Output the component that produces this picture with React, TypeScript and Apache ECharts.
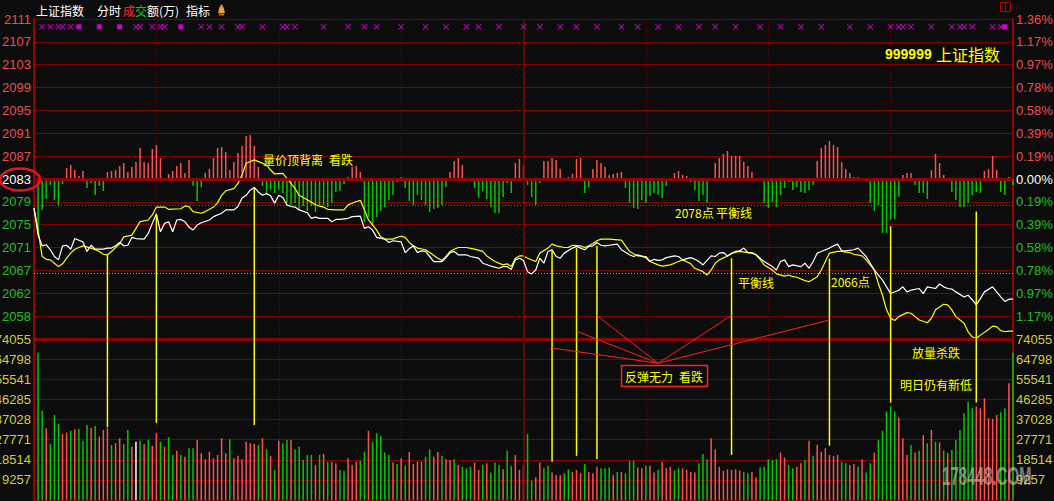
import React, { useEffect, useRef } from "react";
import * as echarts from "echarts";

// ---------------- data ----------------
const PREV_CLOSE = 2083;
const PRICE_STEP = 4.07;
const VOL_STEP = 9257;

// tick labels, index = step + 7 (step -7 .. 7)
const priceTickLabels = ["", "2058", "2062", "2067", "2071", "2075", "2079", "2083", "2087", "2091", "2095", "2099", "2103", "2107", "2111"];
const pctTickLabels = ["", "1.17%", "0.97%", "0.78%", "0.58%", "0.39%", "0.19%", "0.00%", "0.19%", "0.39%", "0.58%", "0.78%", "0.97%", "1.17%", "1.36%"];
// index = volume step 0..8
const volTickLabels = ["", "9257", "18514", "27771", "37028", "46285", "55541", "64798", "74055"];

// [minute, price]
const whiteLine: [number, number][] = [
  [0, 2077.8], [1, 2073.0], [2, 2071.1], [3, 2071.3], [4, 2070.4], [5, 2069.2], [6, 2068.6], [7, 2071.1], [8, 2071.2], [9, 2070.5],
  [10, 2072.4], [11, 2072.1], [12, 2071.8], [13, 2070.1], [14, 2071.2], [15, 2070.5], [17, 2070.5], [18, 2070.7], [19, 2070.7], [20, 2071.1],
  [21, 2071.7], [22, 2071.1], [23, 2071.2], [24, 2072.6], [25, 2072.4], [27, 2072.3], [28, 2073.3], [29, 2075.1], [30, 2076.8], [31, 2073.6],
  [32, 2075.1], [33, 2075.4], [34, 2073.6], [35, 2075.7], [36, 2075.8], [37, 2075.4], [38, 2074.4], [39, 2073.9], [40, 2074.8], [41, 2075.2],
  [43, 2075.7], [44, 2076.3], [46, 2076.9], [47, 2077.5], [49, 2077.5], [50, 2078.1], [51, 2079.6], [52, 2080.1], [53, 2081.0], [54, 2081.5],
  [55, 2080.7], [56, 2080.1], [57, 2080.4], [58, 2080.0], [59, 2078.7], [60, 2080.1], [61, 2079.7], [62, 2078.4], [63, 2078.1], [64, 2078.0],
  [65, 2077.5], [67, 2077.0], [68, 2076.0], [69, 2076.2], [70, 2076.0], [72, 2076.0], [73, 2075.4], [74, 2075.8], [75, 2075.8], [77, 2076.0],
  [78, 2076.3], [80, 2076.4], [81, 2074.2], [82, 2074.5], [83, 2073.9], [84, 2072.6], [86, 2072.3], [87, 2071.7], [88, 2072.0], [90, 2071.8],
  [91, 2069.9], [92, 2070.6], [93, 2071.1], [94, 2069.9], [95, 2070.2], [96, 2070.1], [97, 2069.2], [98, 2068.3], [99, 2068.3], [100, 2068.3],
  [101, 2069.0], [102, 2069.9], [103, 2070.1], [104, 2069.5], [106, 2069.5], [107, 2069.2], [109, 2068.9], [110, 2068.0], [112, 2067.5], [114, 2067.1],
  [115, 2067.4], [116, 2067.4], [117, 2066.9], [118, 2068.6], [119, 2068.9], [120, 2068.5], [121, 2066.5], [122, 2066.1], [123, 2066.8], [124, 2068.9],
  [125, 2068.0], [126, 2070.1], [127, 2070.4], [128, 2069.2], [129, 2068.9], [130, 2069.8], [132, 2070.7], [133, 2071.0], [134, 2070.7], [135, 2070.4],
  [136, 2071.0], [137, 2071.1], [138, 2071.7], [139, 2071.2], [140, 2071.1], [141, 2071.2], [143, 2071.4], [144, 2070.4], [146, 2069.5], [147, 2069.2],
  [148, 2069.5], [150, 2069.0], [151, 2068.3], [152, 2068.7], [153, 2068.5], [154, 2068.6], [155, 2069.0], [157, 2069.3], [158, 2069.2], [159, 2068.6],
  [161, 2069.0], [162, 2068.7], [163, 2068.3], [164, 2067.7], [166, 2069.3], [167, 2069.2], [168, 2069.8], [169, 2069.9], [170, 2069.3], [172, 2070.1],
  [173, 2070.2], [174, 2070.7], [175, 2069.9], [176, 2069.8], [177, 2069.5], [178, 2068.9], [179, 2068.3], [181, 2067.4], [182, 2066.8], [183, 2068.3],
  [184, 2068.6], [185, 2067.4], [186, 2067.7], [188, 2067.4], [189, 2068.0], [190, 2067.1], [191, 2068.3], [192, 2069.8], [193, 2070.1], [195, 2070.7],
  [196, 2071.1], [197, 2071.4], [198, 2070.2], [199, 2070.2], [201, 2070.4], [202, 2070.7], [204, 2069.2], [205, 2068.0], [206, 2066.8], [208, 2065.0],
  [209, 2063.8], [210, 2062.6], [212, 2063.2], [213, 2063.8], [214, 2062.9], [215, 2063.2], [217, 2063.5], [218, 2062.6], [219, 2063.8], [221, 2063.5],
  [222, 2064.3], [223, 2063.8], [224, 2063.5], [225, 2063.4], [226, 2062.9], [228, 2062.0], [229, 2062.3], [230, 2061.5], [231, 2060.6], [232, 2061.7],
  [233, 2062.9], [235, 2063.8], [236, 2062.9], [237, 2062.0], [238, 2061.2], [239, 2061.6], [240, 2061.6],
];

const yellowLine: [number, number][] = [
  [0, 2077.8], [1, 2073.9], [2, 2069.2], [3, 2068.7], [4, 2068.6], [5, 2068.0], [6, 2067.4], [7, 2067.9], [8, 2068.9], [9, 2069.8],
  [10, 2070.5], [11, 2070.8], [12, 2071.1], [14, 2070.7], [15, 2070.4], [16, 2070.1], [17, 2069.6], [18, 2069.5], [19, 2070.1], [21, 2071.5],
  [22, 2072.7], [24, 2073.0], [25, 2074.2], [26, 2075.4], [28, 2075.7], [29, 2076.6], [30, 2078.0], [32, 2078.0], [33, 2077.6], [36, 2077.7],
  [37, 2078.2], [38, 2078.1], [39, 2077.2], [41, 2076.9], [42, 2077.2], [44, 2078.0], [45, 2078.8], [46, 2080.1], [47, 2080.9], [49, 2081.3],
  [50, 2082.2], [51, 2083.7], [52, 2085.8], [54, 2086.4], [55, 2086.1], [57, 2085.5], [58, 2084.6], [59, 2083.9], [61, 2084.0], [62, 2083.1],
  [64, 2081.3], [65, 2080.1], [67, 2079.3], [69, 2078.4], [71, 2078.0], [72, 2077.6], [74, 2077.5], [76, 2077.5], [77, 2078.4], [79, 2079.0],
  [80, 2079.2], [81, 2077.5], [82, 2075.7], [84, 2073.9], [85, 2072.7], [86, 2072.3], [88, 2072.3], [89, 2072.6], [90, 2072.8], [91, 2072.6],
  [92, 2071.7], [93, 2071.1], [94, 2070.7], [96, 2070.4], [97, 2069.9], [99, 2068.9], [100, 2068.5], [101, 2069.2], [102, 2070.1], [103, 2070.5],
  [104, 2070.8], [106, 2070.8], [108, 2070.5], [110, 2070.1], [111, 2069.3], [113, 2068.3], [115, 2067.7], [116, 2067.9], [117, 2067.4], [118, 2068.9],
  [119, 2069.3], [120, 2069.3], [121, 2068.9], [123, 2068.3], [124, 2069.8], [126, 2070.7], [127, 2071.4], [128, 2071.1], [130, 2070.8], [131, 2070.8],
  [132, 2071.2], [134, 2071.1], [135, 2070.8], [136, 2071.1], [137, 2071.5], [138, 2072.0], [139, 2072.3], [141, 2072.3], [144, 2072.1], [145, 2071.1],
  [146, 2070.1], [148, 2069.3], [150, 2069.2], [151, 2068.3], [153, 2067.7], [154, 2067.5], [156, 2067.7], [157, 2068.0], [158, 2068.3], [159, 2068.6],
  [161, 2067.9], [162, 2067.1], [164, 2066.5], [165, 2065.9], [166, 2066.8], [167, 2068.0], [168, 2068.6], [170, 2069.3], [171, 2069.8], [173, 2070.1],
  [175, 2069.9], [176, 2069.9], [177, 2069.5], [178, 2068.7], [179, 2067.7], [181, 2066.8], [182, 2066.1], [184, 2065.7], [185, 2065.9], [186, 2065.6],
  [187, 2065.5], [189, 2064.9], [190, 2064.7], [192, 2065.6], [193, 2066.8], [194, 2068.3], [195, 2069.8], [197, 2070.1], [198, 2070.1], [200, 2069.9],
  [201, 2069.6], [203, 2069.3], [204, 2068.6], [206, 2066.8], [207, 2064.4], [208, 2062.3], [209, 2059.7], [210, 2058.2], [211, 2057.8], [212, 2058.5],
  [214, 2059.2], [215, 2059.1], [216, 2058.5], [217, 2057.9], [219, 2057.4], [220, 2058.2], [221, 2059.7], [223, 2060.7], [224, 2060.6], [225, 2059.7],
  [226, 2058.5], [228, 2057.3], [229, 2055.8], [230, 2054.9], [231, 2054.6], [232, 2055.2], [234, 2056.2], [235, 2056.8], [236, 2056.7], [237, 2056.0],
  [238, 2055.8], [239, 2055.9], [240, 2055.9],
];

// buy/sell strength histogram, minutes 1..240
const strength = [
  -51, -31, -20, -6, -21, -26, -5, 11, 14, 9, 3, 8, -9, -4, -16, -7, -12, 7, 8, 9,
  13, 16, 7, 12, 17, 31, 17, 16, 30, 34, 21, -1, 5, 8, 13, 16, 6, 19, -7, -22,
  -8, 6, 10, 21, 31, 32, 27, 9, 17, 26, 33, 43, 44, 33, 12, -7, -14, -11, -14, -11,
  -14, -24, -26, -24, -30, -27, -32, -27, -33, -26, -26, -28, -24, -13, -12, -5, 2, 12, 13,
  7, -43, -38, -47, -38, -32, -28, -21, -16, -3, 2, -9, -22, -26, -16, -21, -26, -33, -30, -29,
  -26, -8, 7, 18, 21, 14, 0, -1, -9, -19, -12, -20, -28, -34, -34, -18, -4, -14, 16, 20,
  14, -6, -18, -26, -4, 18, 18, 21, 19, 10, -2, 2, 5, 20, 21, -14, -8, 10, 19, 16,
  12, 4, 5, 6, 7, -9, -24, -29, -30, -21, -24, -17, -14, -16, -19, -7, -2, 6, 8, 4,
  3, -3, -11, -22, -16, -24, 0, 16, 21, 25, 28, 23, 23, 23, 17, 13, 7, 0, 1, -24,
  -29, -23, -28, -16, -9, -3, -11, -8, -13, -14, -11, -6, 18, 31, 34, 38, 34, 32, 17, 10,
  6, 2, 2, -2, 0, -24, -32, -26, -54, -54, -41, -40, -18, 4, 6, 6, -6, -14, -14, -20,
  9, 25, 16, 4, 0, -13, -21, -28, -28, -24, -16, -13, -14, 8, 10, 23, 9, -13, -16, 2, -6,
];

// volume (万), minutes 1..240
const volumes = [
  67700, 41000, 33000, 25800, 39100, 35000, 30400, 31000, 31800, 32500,
  32700, 27200, 34500, 33100, 34000, 29100, 32200, 33300, 25300, 26100,
  28400, 25800, 32200, 24500, 26800, 27300, 25800, 27600, 24900, 30700,
  26800, 24500, 28900, 20700, 22600, 20700, 19900, 23800, 23800, 27600,
  21500, 18700, 22200, 19200, 20700, 28400, 21500, 27900, 19200, 20300,
  18700, 26800, 26100, 25800, 25300, 28400, 23300, 20300, 13800, 27200,
  26100, 27600, 27600, 23300, 24500, 18400, 20700, 20700, 16100, 20700,
  21200, 17600, 17600, 16900, 13800, 13500, 19200, 16100, 17600,
  18100, 22200, 31800, 26800, 30700, 29500, 21800, 20700, 17200, 16600,
  19200, 15700, 22100, 16600, 17600, 17600, 19900, 23300, 19900, 22100,
  20300, 18700, 18400, 18700, 16100, 15300, 14600, 15300, 17200, 13800,
  16100, 16900, 12600, 17200, 16100, 14100, 22700, 15700, 20700, 13800,
  16100, 30400, 8900, 10400, 17200, 14600, 15700, 12600, 11500, 11500,
  12300, 14100, 12900, 13800, 12300, 16600, 12900, 12300, 15300, 14600,
  14600, 15000, 11500, 12900, 12900, 12300, 18100, 18100, 15000, 14600,
  15700, 15700, 12600, 13800, 17600, 14600, 15300, 13500, 14600, 14600,
  13800, 13000, 12600, 16900, 21200, 18700, 28400, 23300, 15300, 13500,
  14100, 13800, 14100, 13500, 12900, 12300, 12900, 10400, 15000, 15300,
  18700, 18400, 18700, 21800, 19600, 16100, 14600, 15300, 16900, 18400,
  27200, 20300, 25300, 22200, 23800, 20700, 20300, 20700, 17600, 16900,
  16100, 16600, 15300, 18700, 12600, 16900, 21800, 27600, 31900, 40700,
  43000, 40700, 37900, 28400, 20700, 25300, 21800, 22700, 29900, 26100,
  32200, 26800, 26500, 22700, 21500, 23000, 27600, 32200, 39900, 45300,
  42200, 43000, 42200, 46800, 37600, 37300, 39100, 40400, 42200, 53700,
  67700,
];
// r = up, g = down, w = flat
const volumeDirections =
  "ggrgggrrgr" + "gggrgrrrgr" + "rggrwgrgrr" + "grggrgrggr" + "rrrrrrrgrr" + "rrrrgrgrgr" + "ggrgggggrg" + "rgrrggrrr" +
  "ggrgggggrg" + "rgrrrrggrr" + "grrgrgggrr" + "grgggrggrr" + "rggrrggrrr" + "ggrrrgrrrg" + "ggrgrgggrr" + "grrgrrrggr" +
  "rrrgggrrrr" + "rrrrggrrgg" + "gggrrggrrg" + "rgrrrrrrgg" + "rrgrggrggg" + "ggrrrgrgrg" + "rgrgrggggg" + "grrrrrrggr" + "g";

const crossMinutes = [2, 4, 6, 7, 9, 25, 26, 29, 31, 32, 41, 43, 46, 50, 51, 56, 61, 62, 64, 71, 77, 81, 84, 90, 96, 101, 106, 109, 114, 120, 124, 129, 133, 138, 144, 148, 153, 158, 163, 167, 172, 178, 183, 188, 193, 200, 205, 210, 212, 213, 215, 220, 225, 227, 228, 230, 235, 237];
const squareMinutes = [11, 16, 21, 36, 238];
const MARK_PRICE = 2110.1;

const balanceHigh = 2078.3;
const balanceLow = 2066.2;

// hand-drawn annotation verticals: minute, top price, bottom volume
const annoMinutes = [18, 30, 54, 127, 133, 138, 171, 195, 210, 231];
const annoTopPrice = [2069.5, 2076.8, 2081.5, 2070.4, 2070.7, 2071.1, 2068.9, 2068.8, 2074.6, 2077.2];
const annoBottomVol = [33600, 35500, 34500, 17600, 20300, 18900, 20700, 25000, 44800, 44800];

// fan of red lines: centre (minute, volume) and targets
const fanCenter: [number, number] = [153, 62900];
const fanTargetsVol: [number, number][] = [[127, 69900]];
const fanTargetsPrice: [number, number][] = [[133, 2055.9], [138, 2058.7], [171, 2058.7], [195, 2057.9]];

// ---------------- style ----------------
const GRID = "#800000";
const BORDER = "#9a0000";
const BAR_RED = "#ff5050";
const BAR_GREEN = "#00c800";
const LBL_RED = "#f04c4c";
const LBL_GREEN = "#1ec21e";
const LBL_VOL = "#d2cc3a";
const YEL = "#ffff00";
const CJK = '"Noto Sans CJK SC", sans-serif';
const LAT = '"Liberation Sans", Arial, sans-serif';

const stepColor = (v: any) => {
  const k = Math.round(Number(v));
  return k > 0 ? LBL_RED : k < 0 ? LBL_GREEN : "#ffffff";
};

export default function App() {
  const ref = useRef<HTMLDivElement>(null);

  useEffect(() => {
    const el = ref.current!;
    const chart = echarts.init(el, null, { renderer: "svg" });
    const priceMin = PREV_CLOSE - 7 * PRICE_STEP;
    const priceMax = PREV_CLOSE + 7 * PRICE_STEP;
    const labelBase = { fontFamily: LAT, fontSize: 13, margin: 3 };
    const noLine = { show: false };
    const mk = (extra: any) => ({ silent: true, symbol: "none", label: { show: false }, animation: false, ...extra });

    const xAxisBase = (g: number) => ({
      type: "value", gridIndex: g, min: 0, max: 240, interval: 30,
      axisLine: noLine, axisTick: noLine, axisLabel: noLine,
      splitLine: { show: true, lineStyle: { color: GRID, type: [1, 2], width: 1 } },
    });

    const option: any = {
      animation: false,
      backgroundColor: "#0c0c0c",
      grid: [
        { left: 34, right: 41, top: 19, height: 320, containLabel: false, outerBoundsMode: "none" },
        { left: 34, right: 41, top: 339, height: 161, containLabel: false, outerBoundsMode: "none" },
      ],
      xAxis: [xAxisBase(0), xAxisBase(1)],
      yAxis: [
        { type: "value", gridIndex: 0, min: priceMin, max: priceMax, show: false },
        {
          type: "value", gridIndex: 0, min: -7, max: 7, interval: 1, position: "left",
          axisLine: { show: true, lineStyle: { color: BORDER, width: 2 } }, axisTick: noLine,
          axisLabel: { ...labelBase, formatter: (v: number) => priceTickLabels[Math.round(v) + 7], color: stepColor },
          splitLine: { show: true, lineStyle: { color: GRID, width: 1 } },
        },
        {
          type: "value", gridIndex: 0, min: -7, max: 7, interval: 1, position: "right",
          axisLine: { show: true, lineStyle: { color: BORDER, width: 2 } }, axisTick: noLine,
          axisLabel: { ...labelBase, formatter: (v: number) => pctTickLabels[Math.round(v) + 7], color: stepColor },
          splitLine: noLine,
        },
        { type: "value", gridIndex: 0, min: -160, max: 160, show: false },
        {
          type: "value", gridIndex: 1, min: 0, max: 8 * VOL_STEP, interval: VOL_STEP, position: "left",
          axisLine: { show: true, lineStyle: { color: BORDER, width: 2 } }, axisTick: noLine,
          axisLabel: { ...labelBase, formatter: (v: number) => volTickLabels[Math.round(v / VOL_STEP)], color: LBL_VOL },
          splitLine: { show: true, lineStyle: { color: GRID, width: 1 } },
        },
        {
          type: "value", gridIndex: 1, min: 0, max: 8 * VOL_STEP, interval: VOL_STEP, position: "right",
          axisLine: { show: true, lineStyle: { color: BORDER, width: 2 } }, axisTick: noLine,
          axisLabel: { ...labelBase, formatter: (v: number) => volTickLabels[Math.round(v / VOL_STEP)], color: LBL_VOL },
          splitLine: noLine,
        },
      ],
      series: [
        {
          type: "bar", xAxisIndex: 0, yAxisIndex: 3, barWidth: 1.5, z: 2,
          data: strength.map((v, i) => ({ value: [i + 1, v], itemStyle: { color: v >= 0 ? BAR_RED : BAR_GREEN } })),
          markLine: mk({ lineStyle: { color: "#8c0000", width: 3, type: "solid" }, data: [{ yAxis: 0 }] }),
        },
        {
          type: "bar", xAxisIndex: 1, yAxisIndex: 4, barWidth: 1.5, z: 2,
          data: volumes.map((v, i) => {
            const d = volumeDirections[i];
            return { value: [i + 1, v], itemStyle: { color: d === "r" ? BAR_RED : d === "g" ? BAR_GREEN : "#ffffff" } };
          }),
          markLine: mk({
            data: [
              { yAxis: 8 * VOL_STEP, lineStyle: { color: "#8c0000", width: 3, type: "solid" } },
              { xAxis: 120, lineStyle: { color: GRID, width: 1.5, type: "solid" } },
            ],
          }),
        },
        {
          type: "line", xAxisIndex: 0, yAxisIndex: 0, data: yellowLine, showSymbol: false, z: 4,
          lineStyle: { color: YEL, width: 1.2 },
          markLine: mk({
            data: [
              { yAxis: balanceHigh, lineStyle: { color: "#b030b8", type: [1, 2], width: 1 } },
              { yAxis: balanceLow, lineStyle: { color: "#30d0d0", type: [1, 2], width: 1 } },
              { xAxis: 120, lineStyle: { color: GRID, width: 1.5, type: "solid" } },
            ],
          }),
        },
        {
          type: "line", xAxisIndex: 0, yAxisIndex: 0, data: whiteLine, showSymbol: false, z: 5,
          lineStyle: { color: "#ffffff", width: 1.2 },
        },
        {
          type: "scatter", xAxisIndex: 0, yAxisIndex: 0, z: 5,
          symbol: "path://M0 1L1 0L5 4L9 0L10 1L6 5L10 9L9 10L5 6L1 10L0 9L4 5Z",
          symbolSize: 6, itemStyle: { color: "#ff00ff" },
          data: crossMinutes.map((m) => [m, MARK_PRICE]),
        },
        {
          type: "scatter", xAxisIndex: 0, yAxisIndex: 0, z: 5, symbol: "rect",
          symbolSize: 5, itemStyle: { color: "#ff00ff" },
          data: squareMinutes.map((m) => [m, MARK_PRICE]),
        },
      ],
    };
    chart.setOption(option);

    const P = (m: number, p: number) => chart.convertToPixel({ xAxisIndex: 0, yAxisIndex: 0 } as any, [m, p]) as number[];
    const V = (m: number, v: number) => chart.convertToPixel({ xAxisIndex: 1, yAxisIndex: 4 } as any, [m, v]) as number[];

    const els: any[] = [];
    const txt = (text: string, x: number, y: number, font: string, fill = YEL) =>
      els.push({ type: "text", z: 100, style: { text, x, y, font, fill, textAlign: "left", textVerticalAlign: "middle" } });

    annoMinutes.forEach((m, i) => {
      const a = P(m, annoTopPrice[i]);
      const b = V(m, annoBottomVol[i]);
      els.push({ type: "line", z: 90, shape: { x1: a[0], y1: a[1], x2: b[0], y2: b[1] }, style: { stroke: YEL, lineWidth: 1.5 } });
    });
    const c = V(fanCenter[0], fanCenter[1]);
    [...fanTargetsVol.map(([m, v]) => V(m, v)), ...fanTargetsPrice.map(([m, p]) => P(m, p))].forEach((t) => {
      els.push({ type: "line", z: 91, shape: { x1: c[0], y1: c[1], x2: t[0], y2: t[1] }, style: { stroke: "#ff2020", lineWidth: 1 } });
    });
    els.push({ type: "rect", z: 92, shape: { x: 621.5, y: 365.5, width: 86, height: 21 }, style: { fill: "#0c0c0c", stroke: "#ff2020", lineWidth: 1.5 } });
    txt("反弹无力", 625, 376.5, `12px ${CJK}`);
    txt("看跌", 679, 376.5, `12px ${CJK}`);

    txt("量价顶背离", 263, 159, `12px ${CJK}`);
    txt("看跌", 329, 159, `12px ${CJK}`);
    txt("2078点", 675, 212.5, `12px ${CJK}`);
    txt("平衡线", 716, 212.5, `12px ${CJK}`);
    txt("平衡线", 738, 282.5, `12px ${CJK}`);
    txt("2066点", 831, 281.5, `12px ${CJK}`);
    txt("放量杀跌", 912, 352.5, `12px ${CJK}`);
    txt("明日仍有新低", 900, 384, `12px ${CJK}`);

    // header
    txt("上证指数", 36, 10.5, `12px ${CJK}`, "#ffffff");
    txt("分时", 97, 10.5, `12px ${CJK}`, "#ffffff");
    txt("成", 123, 10.5, `12px ${CJK}`, "#ff3030");
    txt("交", 135, 10.5, `12px ${CJK}`, "#00d000");
    txt("额(万)", 147, 10.5, `12px ${CJK}`, "#ffffff");
    txt("指标", 186, 10.5, `12px ${CJK}`, "#ffffff");
    els.push({ type: "polygon", z: 100, shape: { points: [[218, 13], [225, 13], [223.5, 7], [219.5, 7]] }, style: { fill: "#f0a030" } });
    els.push({ type: "circle", z: 100, shape: { cx: 221.5, cy: 6, r: 1.5 }, style: { fill: "#e08020" } });
    els.push({ type: "rect", z: 100, shape: { x: 219, y: 13.5, width: 5, height: 2 }, style: { fill: "#c07010" } });

    // title
    txt("999999", 885, 53.5, `bold 14px ${LAT}`);
    txt("上证指数", 936, 53.5, `16px ${CJK}`);

    // top-right icon
    els.push({ type: "rect", z: 100, shape: { x: 1000.5, y: 2.5, width: 10, height: 9 }, style: { fill: "none", stroke: "#b00000", lineWidth: 1 } });
    els.push({ type: "line", z: 100, shape: { x1: 1005.5, y1: 2.5, x2: 1005.5, y2: 11.5 }, style: { stroke: "#b00000", lineWidth: 1 } });

    // red ellipse round the previous close label
    els.push({ type: "ellipse", z: 100, shape: { cx: 20, cy: 179.5, rx: 20, ry: 11 }, style: { fill: "none", stroke: "#e8141e", lineWidth: 2.5 } });

    // watermark
    els.push({
      type: "text", z: 100, x: 942, y: 476, scaleX: 0.58,
      style: { text: "178448.COM", x: 0, y: 0, font: `bold 26px ${LAT}`, fill: "rgba(200,200,200,0.6)", textVerticalAlign: "middle", shadowBlur: 4, shadowColor: "rgba(160,160,160,0.8)" },
    });

    chart.setOption({ graphic: { elements: els } });

    return () => chart.dispose();
  }, []);

  return (
    <div
      ref={ref}
      style={{ position: "fixed", left: 0, top: 0, width: 1054, height: 501, background: "#0c0c0c" }}
    />
  );
}
